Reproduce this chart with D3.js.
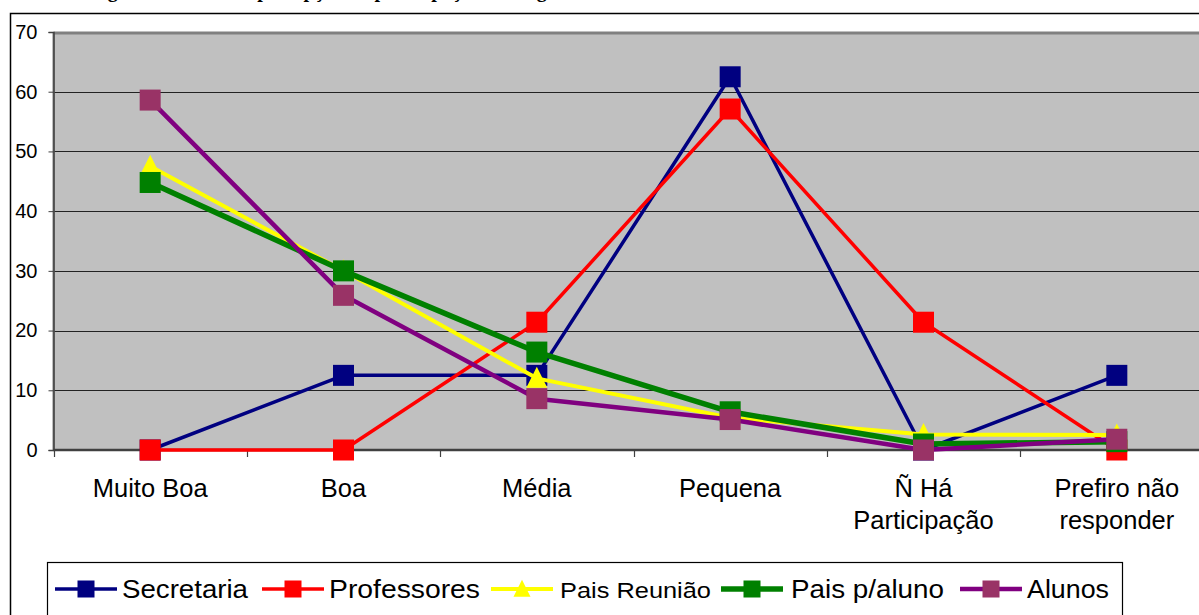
<!DOCTYPE html>
<html>
<head>
<meta charset="utf-8">
<script src="https://cdn.jsdelivr.net/npm/d3@7"></script>
<style>
  body { margin: 0; background: #fff; overflow: hidden; }
  svg { display: block; }
</style>
</head>
<body>
<svg id="canvas" width="1199" height="615"></svg>
<script>
let categories = ['Muito Boa', 'Boa', 'Média', 'Pequena', 'Ñ Há|Participação', 'Prefiro não|responder'];
let yTicks = [0, 10, 20, 30, 40, 50, 60, 70];

let secretaria = [0, 12.5, 12.5, 62.5, 0, 12.5];
let professores = [0, 0, 21.4, 57.1, 21.4, 0];
let paisReuniao = [47.5, 30, 12, 5.4, 2.6, 2.5];
let paisAluno = [44.8, 30, 16.4, 6.4, 1, 1.4];
let alunos = [58.6, 25.9, 8.6, 5.1, 0, 1.8];

let seriesNames = ['Secretaria', 'Professores', 'Pais Reunião', 'Pais p/aluno', 'Alunos'];
let seriesValues = [secretaria, professores, paisReuniao, paisAluno, alunos];

// line colour, marker colour, line width, marker shape
let styles = [
    {line: '#000080', fill: '#000080', width: 3.5, shape: 'square'},
    {line: '#ff0000', fill: '#ff0000', width: 3.5, shape: 'square'},
    {line: '#ffff00', fill: '#ffff00', width: 4, shape: 'triangle'},
    {line: '#008000', fill: '#008000', width: 5.5, shape: 'square'},
    {line: '#800080', fill: '#993366', width: 4.5, shape: 'square'}
];

let canvas = d3.select('#canvas');
let font = '"Liberation Sans", Arial, sans-serif';

// plot area
let plotLeft = 53.5, plotRight = 1213.5, plotTop = 32, plotBottom = 450;

let x = d3.scalePoint()
    .domain(categories)
    .range([plotLeft, plotRight])
    .padding(0.5);

let y = d3.scaleLinear()
    .domain([0, 70])
    .range([plotBottom, plotTop]);

// title, almost all of it above the visible area
canvas.append('text')
    .attr('x', 90)
    .attr('y', -3)
    .attr('font-family', '"Liberation Serif", "Times New Roman", serif')
    .attr('font-weight', 'bold')
    .attr('font-size', 20)
    .text('Figura 9 – Nível de percepção da participação dos segmentos no PPP');

// outer chart border
canvas.append('rect')
    .attr('x', 10.5)
    .attr('y', 13.5)
    .attr('width', 1300)
    .attr('height', 700)
    .attr('fill', 'none')
    .attr('stroke', '#000')
    .attr('stroke-width', 1.5);

// plot background
canvas.append('rect')
    .attr('x', plotLeft)
    .attr('y', plotTop)
    .attr('width', plotRight - plotLeft)
    .attr('height', plotBottom - plotTop)
    .attr('fill', '#c0c0c0');

// gridlines
canvas.selectAll('.grid')
    .data(yTicks.filter((t) => t > 0 && t < 70))
    .enter()
    .append('line')
    .attr('class', 'grid')
    .attr('x1', plotLeft)
    .attr('x2', plotRight)
    .attr('y1', (d) => Math.round(y(d)) + 0.5)
    .attr('y2', (d) => Math.round(y(d)) + 0.5)
    .attr('stroke', '#222')
    .attr('stroke-width', 1.2);

// plot border top and left
canvas.append('line')
    .attr('x1', plotLeft).attr('x2', plotRight)
    .attr('y1', plotTop + 1).attr('y2', plotTop + 1)
    .attr('stroke', '#808080').attr('stroke-width', 3);
canvas.append('line')
    .attr('x1', plotLeft).attr('x2', plotLeft)
    .attr('y1', plotTop).attr('y2', plotBottom)
    .attr('stroke', '#808080').attr('stroke-width', 2);

// y axis
let yAxis = d3.axisLeft(y)
    .tickValues(yTicks)
    .tickSize(5)
    .tickPadding(11);

let yG = canvas.append('g')
    .attr('transform', 'translate(' + plotLeft + ',0)')
    .call(yAxis);
yG.select('.domain').attr('stroke', '#404040').attr('stroke-width', 1.5);
yG.selectAll('.tick line').attr('stroke', '#404040');
yG.selectAll('.tick text')
    .attr('font-family', font)
    .attr('font-size', 20)
    .attr('fill', '#000');

// x axis line and ticks between categories
let step = x.step();
let boundaries = d3.range(categories.length + 1).map((i) => plotLeft + i * step);

canvas.append('line')
    .attr('x1', plotLeft).attr('x2', plotRight)
    .attr('y1', plotBottom).attr('y2', plotBottom)
    .attr('stroke', '#404040').attr('stroke-width', 2.5);

canvas.selectAll('.xtick')
    .data(boundaries)
    .enter()
    .append('line')
    .attr('class', 'xtick')
    .attr('x1', (d) => Math.round(d) + 0.5)
    .attr('x2', (d) => Math.round(d) + 0.5)
    .attr('y1', plotBottom)
    .attr('y2', plotBottom + 7)
    .attr('stroke', '#404040')
    .attr('stroke-width', 1.2);

// category labels
let xLabels = canvas.selectAll('.xlabel')
    .data(categories)
    .enter()
    .append('text')
    .attr('class', 'xlabel')
    .attr('text-anchor', 'middle')
    .attr('font-family', font)
    .attr('font-size', 25.5)
    .attr('fill', '#000');

xLabels.selectAll('tspan')
    .data((d) => d.split('|').map((part) => ({cat: d, part: part})))
    .enter()
    .append('tspan')
    .attr('x', (d) => x(d.cat))
    .attr('y', (d, i) => 497 + i * 32)
    .text((d) => d.part);

// markers
let drawMarker = (g, shape, fill, cx, cy, size) => {
    if (shape === 'triangle') {
        g.append('path')
            .attr('d', 'M' + cx + ',' + (cy - size * 0.55) + 'L' + (cx + size / 2) + ',' + (cy + size * 0.45) + 'L' + (cx - size / 2) + ',' + (cy + size * 0.45) + 'Z')
            .attr('fill', fill);
    } else {
        g.append('rect')
            .attr('x', cx - size / 2)
            .attr('y', cy - size / 2)
            .attr('width', size)
            .attr('height', size)
            .attr('fill', fill);
    }
};

let line = d3.line()
    .x((d, i) => x(categories[i]))
    .y((d) => y(d));

seriesValues.forEach((values, s) => {
    let st = styles[s];
    let g = canvas.append('g').attr('class', 'series');
    g.append('path')
        .datum(values)
        .attr('d', line)
        .attr('fill', 'none')
        .attr('stroke', st.line)
        .attr('stroke-width', st.width)
        .attr('stroke-linejoin', 'round');
    values.forEach((v, i) => {
        drawMarker(g, st.shape, st.fill, x(categories[i]), y(v), 21);
    });
});

// legend
canvas.append('rect')
    .attr('x', 47.5)
    .attr('y', 562.5)
    .attr('width', 1075)
    .attr('height', 80)
    .attr('fill', '#fff')
    .attr('stroke', '#000')
    .attr('stroke-width', 1.2);

let legendLineX = [55, 262, 491, 721, 960];
let legendTextX = [122, 329, 560, 791, 1027];
let legendFont = [26, 26, 22, 26, 26];
let legendWidth = [126, 151, 151, 153, 82];

seriesNames.forEach((name, s) => {
    let st = styles[s];
    let g = canvas.append('g').attr('class', 'legend-item');
    let lx = legendLineX[s];
    let ly = 589;
    g.append('line')
        .attr('x1', lx)
        .attr('x2', lx + 62)
        .attr('y1', ly)
        .attr('y2', ly)
        .attr('stroke', st.line)
        .attr('stroke-width', st.width);
    drawMarker(g, st.shape, st.fill, lx + 31, ly, 17);
    g.append('text')
        .attr('x', legendTextX[s])
        .attr('y', ly + 9)
        .attr('font-family', font)
        .attr('font-size', legendFont[s])
        .attr('textLength', legendWidth[s])
        .attr('lengthAdjust', 'spacingAndGlyphs')
        .attr('fill', '#000')
        .text(name);
});
</script>
</body>
</html>
